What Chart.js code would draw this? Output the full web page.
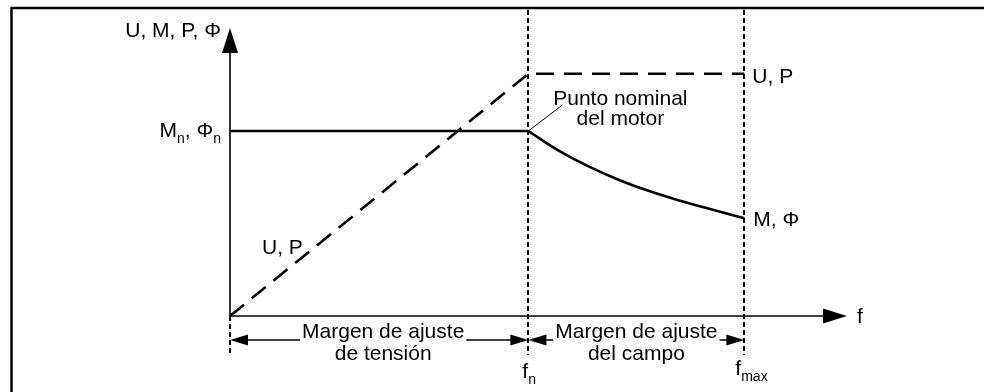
<!DOCTYPE html>
<html>
<head>
<meta charset="utf-8">
<script src="https://cdn.jsdelivr.net/npm/chart.js@4/dist/chart.umd.min.js"></script>
<style>
  html, body { margin: 0; padding: 0; background: #ffffff; }
  canvas { display: block; }
</style>
</head>
<body>
<canvas id="c" width="984" height="392"></canvas>
<script>
// ---- data ----
const fAxisMax = 103.4;          // end of the f axis (arrow tip)
const yAxisMax = 1.557;          // end of the U/M/P/Φ axis (arrow tip)
const fNominal = 50;             // f_n
const fMaximum = 86.2;           // f_max
const upFreq  = [0, 50, 86.2];   // U, P curve
const upValue = [0, 1.31, 1.31];
const mConstFreq  = [0, 50];     // M, Φ constant region
const mConstValue = [1, 1];
const mFieldFreq  = [50, 55, 60, 65, 70, 75, 80, 86.2];   // M, Φ field weakening
const mFieldValue = [1, 0.895, 0.81, 0.738, 0.678, 0.627, 0.582, 0.528];
const regionLabels = [["Margen de ajuste", "de tensión"], ["Margen de ajuste", "del campo"]];

const FONT = '"Liberation Sans", Arial, Helvetica, sans-serif';
const pts = (xs, ys) => xs.map((x, i) => ({ x: x, y: ys[i] }));

function rich(ctx, parts, x, y, align) {
  let w = 0;
  parts.forEach(p => { ctx.font = (p.sub ? 14 : 21) + 'px ' + FONT; w += ctx.measureText(p.t).width; });
  let cx = align === 'right' ? x - w : (align === 'center' ? x - w / 2 : x);
  ctx.textAlign = 'left';
  ctx.textBaseline = 'alphabetic';
  parts.forEach(p => {
    ctx.font = (p.sub ? 14 : 21) + 'px ' + FONT;
    ctx.fillText(p.t, cx, p.sub ? y + 6 : y);
    cx += ctx.measureText(p.t).width;
  });
}

function tri(ctx, a, b, c) {
  ctx.beginPath(); ctx.moveTo(a[0], a[1]); ctx.lineTo(b[0], b[1]); ctx.lineTo(c[0], c[1]); ctx.closePath(); ctx.fill();
}

const diagram = {
  id: 'diagram',
  beforeDatasetsDraw(chart) {
    const ctx = chart.ctx, xs = chart.scales.x, ys = chart.scales.y;
    const x0 = xs.getPixelForValue(0), y0 = ys.getPixelForValue(0);
    const xEnd = xs.getPixelForValue(fAxisMax), yEnd = ys.getPixelForValue(yAxisMax);
    ctx.save();
    ctx.strokeStyle = '#000'; ctx.fillStyle = '#000';
    // frame
    ctx.lineWidth = 2.5;
    ctx.beginPath(); ctx.moveTo(11.5, chart.height); ctx.lineTo(11.5, 8); ctx.lineTo(chart.width, 8); ctx.stroke();
    // dashed verticals
    ctx.lineWidth = 2; ctx.setLineDash([5, 3]);
    const vBottom = y0 + 39;
    [[0, y0], [fNominal, 10], [fMaximum, 10]].forEach(([v, top]) => {
      const px = Math.round(xs.getPixelForValue(v));
      ctx.beginPath(); ctx.moveTo(px, top); ctx.lineTo(px, vBottom); ctx.stroke();
    });
    ctx.setLineDash([]);
    // axes
    ctx.lineWidth = 1.6;
    ctx.beginPath(); ctx.moveTo(x0, y0); ctx.lineTo(x0, yEnd + 22); ctx.stroke();
    tri(ctx, [x0, yEnd], [x0 - 8, yEnd + 25], [x0 + 8, yEnd + 25]);
    ctx.beginPath(); ctx.moveTo(x0, y0); ctx.lineTo(xEnd - 22, y0); ctx.stroke();
    tri(ctx, [xEnd, y0], [xEnd - 24, y0 - 7.5], [xEnd - 24, y0 + 7.5]);
    ctx.restore();
  },
  afterDatasetsDraw(chart) {
    const ctx = chart.ctx, xs = chart.scales.x, ys = chart.scales.y;
    const x0 = xs.getPixelForValue(0), y0 = ys.getPixelForValue(0);
    const xn = xs.getPixelForValue(fNominal), xm = xs.getPixelForValue(fMaximum);
    const xEnd = xs.getPixelForValue(fAxisMax), yEnd = ys.getPixelForValue(yAxisMax);
    const yMn = ys.getPixelForValue(mConstValue[0]);
    const yU = ys.getPixelForValue(upValue[2]);
    const yMend = ys.getPixelForValue(mFieldValue[mFieldValue.length - 1]);
    ctx.save();
    ctx.fillStyle = '#000'; ctx.strokeStyle = '#000';
    // axis labels
    rich(ctx, [{ t: 'U, M, P, Φ' }], x0 - 9, yEnd + 9, 'right');
    rich(ctx, [{ t: 'f' }], xEnd + 10, y0 + 7, 'left');
    rich(ctx, [{ t: 'M' }, { t: 'n', sub: true }, { t: ', Φ' }, { t: 'n', sub: true }], x0 - 9, yMn + 6, 'right');
    rich(ctx, [{ t: 'f' }, { t: 'n', sub: true }], xn - 6, y0 + 62, 'left');
    rich(ctx, [{ t: 'f' }, { t: 'max', sub: true }], xm - 9, y0 + 59, 'left');
    // curve labels
    rich(ctx, [{ t: 'U, P' }], xm + 8, yU + 9, 'left');
    rich(ctx, [{ t: 'M, Φ' }], xm + 9, yMend + 8, 'left');
    rich(ctx, [{ t: 'U, P' }], x0 + 32, y0 - 62, 'left');
    // nominal point annotation
    ctx.lineWidth = 1;
    ctx.beginPath(); ctx.moveTo(xn, yMn); ctx.lineTo(xn + 34, yMn - 26); ctx.stroke();
    rich(ctx, [{ t: 'Punto nominal' }], xn + 92, yMn - 26, 'center');
    rich(ctx, [{ t: 'del motor' }], xn + 92, yMn - 6, 'center');
    // region dimension arrows
    const yA = y0 + 24;
    [[x0, xn, 4], [xn, xm, 0]].forEach(([a, b, off], i) => {
      ctx.lineWidth = 1.5;
      ctx.beginPath(); ctx.moveTo(a + 10, yA); ctx.lineTo(b - 10, yA); ctx.stroke();
      tri(ctx, [a, yA], [a + 18, yA - 5.5], [a + 18, yA + 5.5]);
      tri(ctx, [b, yA], [b - 18, yA - 5.5], [b - 18, yA + 5.5]);
      const cx = (a + b) / 2 + off;
      ctx.font = '21px ' + FONT;
      const w = ctx.measureText(regionLabels[i][0]).width;
      ctx.fillStyle = '#fff';
      ctx.fillRect(cx - w / 2 - 2, yA - 4, w + 4, 8);
      ctx.fillStyle = '#000';
      rich(ctx, [{ t: regionLabels[i][0] }], cx, yA - 2, 'center');
      rich(ctx, [{ t: regionLabels[i][1] }], cx, yA + 20, 'center');
    });
    ctx.restore();
  }
};

new Chart(document.getElementById('c'), {
  type: 'scatter',
  data: {
    datasets: [
      { label: 'U, P', data: pts(upFreq, upValue), showLine: true, borderColor: '#000', borderWidth: 2.6, borderDash: [18, 10], pointRadius: 0, tension: 0 },
      { label: 'M, Φ (const)', data: pts(mConstFreq, mConstValue), showLine: true, borderColor: '#000', borderWidth: 2.6, pointRadius: 0, tension: 0 },
      { label: 'M, Φ (campo)', data: pts(mFieldFreq, mFieldValue), showLine: true, borderColor: '#000', borderWidth: 2.6, pointRadius: 0, cubicInterpolationMode: 'monotone' }
    ]
  },
  options: {
    responsive: false,
    animation: false,
    devicePixelRatio: 1,
    layout: { padding: { left: 230, right: 137, top: 28, bottom: 76 } },
    plugins: { legend: { display: false }, tooltip: { enabled: false } },
    scales: {
      x: { type: 'linear', min: 0, max: fAxisMax, display: false },
      y: { type: 'linear', min: 0, max: yAxisMax, display: false }
    }
  },
  plugins: [diagram]
});
</script>
</body>
</html>
